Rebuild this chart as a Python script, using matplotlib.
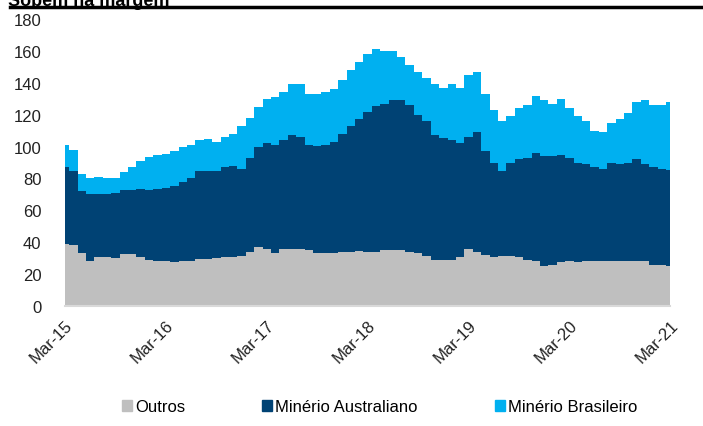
import matplotlib
matplotlib.use("Agg")
import matplotlib.pyplot as plt
from matplotlib.patches import Patch
import numpy as np

plt.rcParams["font.family"] = ["Liberation Sans", "DejaVu Sans"]

# monthly, Mar-15 .. Mar-21
outros = [39, 38, 33, 28.5, 30.5, 30.5, 30, 32.5, 32.5, 31, 29, 28.5,
          28, 27.5, 28, 28.5, 29.5, 29.5, 30, 30.5, 31, 31.5, 34, 37,
          36, 33.5, 36, 36, 35.5, 35, 33, 33, 33.5, 34, 34, 34.5,
          34, 34, 35, 35, 35, 34, 33, 31.5, 29, 29, 29, 31,
          35.5, 34, 32, 31, 31.5, 31.5, 30.5, 29, 28, 25, 25.5, 27.5,
          28.5, 27.5, 28.5, 28, 28, 28.5, 28.5, 28.5, 28.5, 28.5, 26, 26,
          25]
australiano = [48, 47, 39, 41.5, 39.5, 39.5, 41, 40, 40.5, 42.5, 43.5, 45,
               46, 47.5, 50, 51.5, 55.5, 55.5, 54.5, 56.5, 57, 54.5, 59, 63,
               66, 67.5, 68, 71.5, 70.5, 66, 67.5, 68, 69.5, 74, 79, 82.5,
               88, 91.5, 92, 94, 94, 92, 87, 84.5, 78, 76.5, 75, 71.5,
               70.5, 75, 65, 59, 53.5, 58.5, 61.5, 64, 68, 69, 68.5, 67.5,
               64.5, 62.5, 60.5, 59, 58, 61.5, 60.5, 61.5, 63.5, 60.5, 61.5, 60,
               60.5]
brasileiro = [14, 13, 11, 10, 11, 10.5, 9, 11.5, 14, 17.5, 21, 21,
              21.5, 22.5, 22, 21, 19, 20, 18.5, 19, 20, 27, 25, 25,
              28, 30, 30, 31.5, 33, 32, 32.5, 33, 33, 34, 35, 36,
              36, 35.5, 33, 31, 27, 25, 27, 27, 32, 31.5, 35, 34.5,
              39, 38, 36, 33, 31, 29, 32, 33, 36, 35, 33, 35,
              31, 29, 27, 23, 23, 25, 28, 31, 36, 40, 38.5, 40,
              42.5]

tick_labels = ["Mar-15", "Mar-16", "Mar-17", "Mar-18", "Mar-19", "Mar-20", "Mar-21"]
series_names = ["Outros", "Minério Australiano", "Minério Brasileiro"]
colors = ["#BFBFBF", "#004274", "#00B0F0"]

x = np.arange(len(outros))
s1 = np.array(outros)
s2 = s1 + np.array(australiano)
s3 = s2 + np.array(brasileiro)

fig = plt.figure(figsize=(7.03, 4.27), dpi=100)
ax = fig.add_axes([0.0925, 0.281, 0.861, 0.672])

ax.fill_between(x, 0, s1, step="mid", color=colors[0], lw=0)
ax.fill_between(x, s1, s2, step="mid", color=colors[1], lw=0)
ax.fill_between(x, s2, s3, step="mid", color=colors[2], lw=0)

ax.set_xlim(0, 72)
ax.set_ylim(0, 180)
ax.set_yticks(range(0, 181, 20))
ax.set_xticks(range(0, 73, 12))
ax.set_xticklabels(tick_labels, rotation=45, ha="right", rotation_mode="anchor")
ax.tick_params(axis="both", length=0, labelsize=12, colors="#222222")
ax.tick_params(axis="y", pad=17)
ax.tick_params(axis="x", pad=8)
for s in ["top", "right", "left"]:
    ax.spines[s].set_visible(False)
ax.spines["bottom"].set_color("#D9D9D9")
ax.spines["bottom"].set_linewidth(1.5)

# title cut off at top of the image, as in the source
fig.text(0.012, 0.997, "Sobem na margem", fontsize=13, fontweight="bold",
         ha="left", va="center")
fig.add_artist(plt.Line2D([0.014, 1.0], [0.981, 0.981], color="black", lw=2.5,
                          transform=fig.transFigure))

handles = [Patch(color=c) for c in colors]
fig.legend(handles, series_names, loc="center", bbox_to_anchor=(0.54, 0.045),
           ncol=3, frameon=False, fontsize=12, handlelength=0.6, handleheight=0.6,
           handletextpad=0.2, columnspacing=4.6)

plt.savefig("out.png", dpi=100)
